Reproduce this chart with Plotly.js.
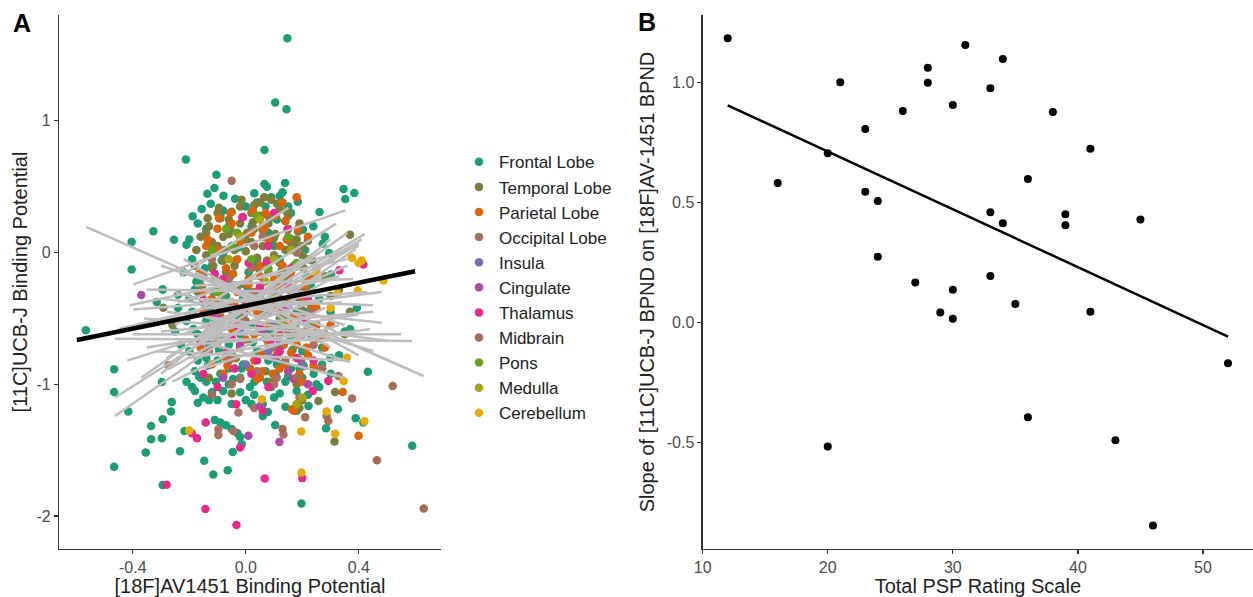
<!DOCTYPE html>
<html>
<head>
<meta charset="utf-8">
<script src="https://cdn.plot.ly/plotly-3.0.1.min.js"></script>
<style>html,body{margin:0;padding:0;background:#fff;}#chart{width:1253px;height:597px;}</style>
</head>
<body>
<div id="chart"></div>
<script>
// ---------- Panel A data ----------
const regions = ["Frontal Lobe","Temporal Lobe","Parietal Lobe","Occipital Lobe","Insula","Cingulate","Thalamus","Midbrain","Pons","Medulla","Cerebellum"];
const regionColors = ["#1B9E77","#7D7D3C","#DE640C","#A8705F","#7570B3","#B04AA8","#E7298A","#A56B59","#66A61E","#A6A61A","#E6AB02"];

const frontalX = [0.147,0.104,0.144,0.066,-0.212,-0.104,-0.136,-0.111,-0.079,-0.124,-0.156,-0.188,-0.038,0.066,0.139,0.13,0.184,0.261,0.346,0.384,0.352,-0.404,-0.404,-0.327,-0.254,-0.294,0.302,0.272,0.295,0.202,0.239,0.075,0.12,0.15,-0.17,-0.14,-0.21,-0.19,-0.22,-0.24,
 -0.566,-0.466,-0.466,-0.416,-0.466,-0.294,-0.354,-0.335,-0.335,-0.294,-0.265,-0.262,-0.297,-0.233,-0.217,-0.147,-0.115,-0.064,-0.046,-0.014,0.197,0.589,0.432,0.416,0.389,0.284,0.326,0.222,0.104,0.078,-0.297,-0.315,-0.294,0.369,0.393,
 -0.11,-0.09,-0.07,-0.05,-0.03,-0.02,-0.13,-0.15,-0.17,-0.12,-0.19,-0.21,-0.18,-0.16,-0.08,-0.05,0.0,0.03,0.06,0.09,0.12,0.14,0.18,0.20,0.24,0.27,0.30,0.33,0.25,0.16,-0.02,-0.06,-0.10,-0.14,-0.20,-0.23,-0.25,-0.21,-0.24,-0.20,-0.18,-0.16,-0.12,-0.08,-0.05,-0.02,0.02,0.05,0.08,0.10,0.12,0.15,0.18,0.21,0.23,0.26,0.30,0.35,0.28,0.22,0.18,0.14,0.10,0.06,0.02,-0.02,-0.06,-0.10,-0.14,-0.17,0.04,0.08,0.12,0.16,0.20,-0.01,-0.04,0.01,0.04,0.07,0.11,-0.09,-0.06,-0.13,-0.10,0.0,0.09,0.03,
 -0.19,-0.15,-0.11,-0.07,-0.03,0.01,0.05,0.09,0.13,0.17,0.21,0.25,-0.17,-0.13,-0.09,-0.05,-0.01,0.03,0.07,0.11,0.15,0.19,0.23,0.27,-0.18,-0.14,-0.10,-0.06,-0.02,0.02,0.06,0.10,0.14,0.18,0.22,0.26,0.30,-0.20,-0.08,0.04,0.16,0.28,
 -0.185,-0.155,-0.125,-0.095,-0.065,-0.035,-0.005,0.025,0.055,0.085,0.115,0.145,0.175,0.205,-0.175,-0.145,-0.115,-0.085,-0.055,-0.025,0.005,0.035,0.065,0.095,0.125,0.155,0.185,0.215,-0.165,-0.135,-0.105,-0.075,-0.045,-0.015,0.015,0.045,0.075,0.105,0.135,0.165];
const frontalY = [1.626,1.139,1.088,0.778,0.707,0.591,0.447,0.49,0.432,0.371,0.331,0.275,0.409,0.52,0.528,0.457,0.386,0.308,0.482,0.452,0.407,0.081,-0.129,0.161,0.098,-0.28,-0.167,0.066,-0.003,0.174,0.2,0.50,0.43,0.35,0.22,0.18,0.06,-0.05,-0.15,-0.32,
 -0.589,-0.886,-1.058,-1.207,-1.626,-1.765,-1.518,-1.316,-1.417,-1.265,-1.207,-1.134,-1.409,-1.508,-1.354,-1.581,-1.684,-1.652,-1.513,-1.455,-1.904,-1.467,-0.904,-1.29,-1.258,-1.333,-1.187,-1.164,-1.308,-1.21,-0.982,-0.376,-0.28,-0.583,-0.419,
 -1.27,-1.29,-1.31,-1.34,-1.37,-1.40,-1.12,-1.10,-1.14,-1.06,-1.02,-0.98,-0.90,-0.95,-1.05,-1.15,-1.12,-1.08,-1.15,-1.02,-1.07,-0.98,-1.05,-0.95,-0.92,-0.85,-0.80,-0.78,-1.00,-0.88,-0.95,-0.88,-0.82,-0.80,-0.75,-0.70,-0.60,-0.52,-0.42,-0.35,-0.28,-0.20,-0.10,-0.02,0.05,0.12,0.20,0.28,0.15,0.05,-0.05,-0.15,-0.10,0.02,-0.25,-0.35,-0.45,-0.60,-0.62,-0.55,-0.45,-0.38,-0.30,-0.45,-0.55,-0.62,-0.70,-0.60,-0.52,-0.62,-0.75,-0.82,-0.72,-0.65,-0.75,-0.35,-0.25,-0.15,-0.05,0.35,0.25,0.28,0.20,0.05,-0.40,0.35,0.42,0.45,
 -0.45,-0.38,-0.50,-0.33,-0.48,-0.40,-0.28,-0.62,-0.20,-0.30,-0.45,-0.55,-0.82,-0.70,-0.92,-0.78,-0.85,-0.98,-0.90,-0.85,-0.94,-0.88,-0.62,-0.72,-1.05,-0.98,-1.12,-1.00,-1.06,-1.15,-1.24,-1.10,-1.17,-1.20,-1.08,-1.02,-0.92,0.10,0.32,0.38,0.30,0.12,
 -0.58,-0.66,-0.42,-0.74,-0.52,-0.80,-0.46,-0.68,-0.36,-0.58,-0.84,-0.50,-0.56,-0.86,-0.22,-0.12,-0.30,-0.06,-0.18,0.04,-0.26,-0.10,-0.22,0.10,-0.14,0.02,-0.34,-0.18,-0.94,-0.86,-0.98,-0.64,-0.96,-0.88,-1.02,-0.60,-0.98,-0.92,-0.56,-0.74];

const temporalX = [-0.10,-0.06,-0.02,0.02,0.05,0.09,0.12,0.08,0.15,0.18,0.20,0.22,0.25,0.28,-0.14,-0.12,-0.08,-0.04,0.0,0.03,0.06,0.10,0.14,0.17,-0.18,-0.15,-0.11,-0.07,0.369,0.316,0.314,0.257,-0.292,0.369,0.18,0.20,0.19,0.09,-0.05,-0.13,0.24,0.30,0.33,0.05,-0.02,0.12,0.35,-0.26,
 -0.16,-0.13,-0.09,-0.05,-0.01,0.03,0.07,0.11,0.15,0.19,-0.14,-0.10,-0.06,-0.02,0.02,0.06,0.10,0.14,0.18,0.22,-0.12,-0.08,-0.04,0.0,0.04,0.08,0.12,0.16,0.20,0.24,-0.17,-0.11,-0.03,0.05,0.13,0.21,
 -0.175,-0.135,-0.095,-0.055,-0.015,0.025,0.065,0.105,0.145,0.185,-0.155,-0.115,-0.075,-0.035,0.005,0.045,0.085,0.125,0.165,0.205,-0.125,-0.085,-0.045,-0.005,0.035,0.075,0.115,0.155,0.195,0.235];
const temporalY = [0.30,0.25,0.35,0.30,0.38,0.40,0.33,0.22,0.18,0.10,0.05,-0.05,-0.12,-0.18,0.15,0.08,0.12,0.02,0.10,0.18,0.05,-0.02,0.02,-0.10,-0.10,-0.18,-0.22,-0.15,0.136,-1.058,-1.434,-1.126,-0.419,-0.449,-1.0,-1.12,-1.18,-0.98,-1.07,-0.95,-0.88,-0.33,-0.28,-0.60,-0.45,-0.50,-0.62,-0.55,
 0.12,0.20,0.26,0.31,0.27,0.36,0.29,0.37,0.28,0.22,-0.02,0.05,0.14,0.22,0.08,0.17,0.11,0.24,0.04,0.09,-0.12,-0.06,-0.10,0.01,-0.04,-0.15,-0.08,0.07,-0.02,-0.20,-0.30,-0.38,-0.26,-0.33,-0.22,-0.28,
 0.02,0.26,0.34,0.18,0.40,0.23,0.42,0.14,0.31,0.16,-0.26,-0.10,0.02,-0.06,0.15,-0.12,0.26,-0.16,0.10,-0.12,-0.40,-0.32,-0.46,-0.24,-0.30,-0.06,-0.34,-0.28,-0.42,-0.06];

const parietalX = [0.18,0.13,-0.05,-0.10,0.02,0.08,0.12,-0.03,0.05,0.10,0.15,0.20,0.25,-0.08,-0.12,-0.15,0.0,0.04,0.08,0.12,0.18,0.22,0.28,-0.05,-0.10,-0.02,0.03,0.06,0.14,0.19,0.343,0.399,0.163,0.17,0.05,-0.07,0.09,0.16,0.30,0.26,0.21,0.01,-0.14,0.07,0.11,-0.04,
 -0.15,-0.11,-0.07,-0.03,0.01,0.05,0.09,0.13,0.17,0.21,0.25,-0.13,-0.09,-0.05,-0.01,0.03,0.07,0.11,0.15,0.19,0.23,-0.16,-0.12,-0.08,-0.04,0.0,0.04,0.08,0.12,0.16,0.20,0.24,0.28,-0.10,-0.02,0.06,0.14,0.22,
 -0.165,-0.125,-0.085,-0.045,-0.005,0.035,0.075,0.115,0.155,0.195,-0.145,-0.105,-0.065,-0.025,0.015,0.055,0.095,0.135,0.175,0.215,-0.135,-0.095,-0.055,-0.015,0.025,0.065,0.105,0.145,0.185,0.225];
const parietalY = [0.42,0.38,0.22,0.18,0.15,0.10,0.05,-0.05,-0.10,-0.20,-0.28,-0.35,-0.42,-0.25,-0.35,-0.45,-0.35,-0.45,-0.55,-0.62,-0.70,-0.78,-0.72,-0.58,-0.68,-0.72,-0.82,-0.90,-0.85,-0.92,-1.058,-1.391,-1.189,-1.20,-0.95,-0.80,-0.30,-0.15,-0.55,-0.65,-0.60,-0.20,0.05,0.30,-0.40,-0.40,
 -0.30,-0.20,-0.12,-0.30,-0.24,-0.18,-0.36,-0.10,-0.48,-0.25,-0.55,-0.58,-0.48,-0.38,-0.52,-0.62,-0.42,-0.78,-0.52,-0.64,-0.40,-0.72,-0.85,-0.92,-0.80,-0.66,-0.96,-0.70,-0.88,-0.76,-0.98,-0.86,-0.62,0.02,0.08,0.20,0.24,0.12,
 -0.16,-0.56,-0.40,-0.16,-0.44,-0.30,-0.66,-0.26,-0.38,-0.82,-0.76,-0.66,-0.86,-0.60,-0.88,-0.76,-0.92,-0.70,-0.58,-0.72,0.10,0.26,0.30,0.12,0.32,0.18,0.28,0.10,0.18,-0.20];

const occipitalX = [-0.05,0.02,0.08,0.12,-0.08,0.15,0.20,0.24,-0.274,0.328,0.376,0.292,-0.097,-0.097,-0.044,0.133,-0.026,0.04,0.10,0.18,0.03,-0.12,-0.13,-0.05,0.03,0.11,0.19,0.27,-0.09,0.07,0.15,0.23,-0.14,-0.06,0.02,0.10,0.18,-0.02,0.06,0.14];
const occipitalY = [0.545,-0.30,-0.45,-0.35,-0.55,-0.60,-0.50,-0.70,-0.856,-0.937,-1.108,-1.278,-1.384,-1.341,-1.354,-1.381,-1.214,-0.90,-1.0,0.0,0.05,-0.05,-0.75,-1.0,-1.18,-0.95,-1.10,-0.88,-0.30,-0.65,-0.20,-0.45,-0.62,-0.20,-0.12,-0.72,-0.28,-0.96,0.12,-0.82];

const insulaX = [0.05,0.10,-0.02,0.15,0.20,0.08,-0.06,0.0,0.12,-0.09];
const insulaY = [-0.30,-0.55,-0.60,-0.40,-0.85,-0.75,-0.42,-0.85,-0.68,-0.22];

const cingulateX = [-0.37,0.119,0.009,0.051,-0.08,0.15,0.22,-0.02,0.10,-0.10,0.06,0.18];
const cingulateY = [-0.323,-1.437,-1.391,-1.164,-0.95,-0.90,-1.0,-0.70,-0.80,-0.50,-0.60,-0.32];

const thalamusX = [0.416,0.331,-0.012,0.147,0.074,-0.28,-0.143,-0.033,0.067,0.2,0.292,0.237,-0.02,-0.173,-0.191,-0.142,-0.034,0.10,0.05,-0.05,0.12,0.18,-0.15,0.02,0.08,-0.10,0.15,0.22,-0.12,-0.04,0.04,0.12,0.20,-0.08,0.0,0.08,0.16,0.24,-0.16,0.06,-0.11,-0.03,0.05,0.13,0.21,-0.07,0.01,0.09,0.17,-0.15];
const thalamusY = [-0.091,-0.134,0.268,0.174,-0.078,-1.763,-1.947,-2.068,-1.715,-1.712,-0.975,-1.051,-1.48,-1.409,-1.371,-1.29,-1.152,0.30,-0.55,-0.65,-0.75,-0.80,-0.92,-0.92,-1.02,-1.02,-0.25,-0.35,-0.48,-0.88,-0.82,-0.58,-0.62,-0.20,-0.40,0.05,-0.12,-0.82,-0.68,-1.20,-0.16,-0.56,-0.26,-0.44,-0.50,-0.76,-0.08,-0.66,-0.96,-0.36];

const midbrainX = [0.63,0.464,0.52,0.286,0.13,-0.12,0.18,0.25,0.0,0.10,-0.06,0.21];
const midbrainY = [-1.942,-1.576,-1.013,-1.24,-1.34,-1.08,-0.95,-0.60,-0.52,-0.25,-0.82,-1.25];

const ponsX = [-0.05,0.08,0.15,-0.10,0.12,0.02,0.18,-0.03,-0.07,0.04,0.13,-0.12];
const ponsY = [0.05,-0.12,0.12,-0.30,-0.55,-0.05,-0.08,0.15,0.18,0.28,-0.20,0.02];

const medullaX = [-0.02,-0.10,0.05,0.10,0.20,0.18,0.07,-0.06,0.16];
const medullaY = [0.12,-0.60,0.25,-0.05,-1.10,-1.15,-0.22,-0.05,0.02];

const cerebellumX = [0.375,0.399,0.41,0.487,0.324,0.396,0.197,0.316,0.286,0.346,0.196,0.057,0.358,0.25,0.30,-0.20,0.42];
const cerebellumY = [-0.04,-0.078,-0.06,-0.212,-0.313,-0.288,-1.669,-1.376,-1.207,-0.975,-1.359,-1.114,-0.798,-0.15,-0.42,-1.35,-1.28];

const regionXs = [frontalX,temporalX,parietalX,occipitalX,insulaX,cingulateX,thalamusX,midbrainX,ponsX,medullaX,cerebellumX];
const regionYs = [frontalY,temporalY,parietalY,occipitalY,insulaY,cingulateY,thalamusY,midbrainY,ponsY,medullaY,cerebellumY];

// per-subject fit lines (gray), endpoints
const subjX1 = [-0.565,-0.398,-0.232,-0.463,-0.463,-0.463,-0.398,-0.30,-0.25,-0.20,-0.37,-0.28,-0.45,-0.30,-0.18,-0.40,-0.22,-0.35,-0.15,-0.33,-0.27,-0.20,-0.41,-0.12,-0.30,-0.25,-0.20,-0.42,-0.10,-0.35,-0.15,-0.28,-0.22,-0.26,-0.18,-0.32,-0.24,-0.14,-0.30,-0.20,-0.16,-0.36];
const subjY1 = [0.195,-0.242,-0.18,-1.24,-1.10,-0.654,-0.432,-0.35,-0.30,-0.45,-0.95,-0.80,-0.58,-0.10,-0.25,-0.62,-0.05,-0.72,-0.60,-0.52,-0.88,-0.35,-0.40,-0.70,-0.60,-0.55,-0.70,-0.82,-0.20,-0.28,-0.88,-0.45,-0.62,-0.98,-0.15,-0.75,-0.38,-0.42,-0.92,-0.80,-0.70,-0.50];
const subjX2 = [0.629,0.352,0.151,0.39,0.40,0.588,0.43,0.481,0.452,0.369,0.36,0.41,0.33,0.35,0.38,0.55,0.30,0.40,0.42,0.48,0.30,0.45,0.36,0.35,0.45,0.32,0.38,0.28,0.40,0.25,0.33,0.50,0.36,0.28,0.32,0.36,0.40,0.34,0.20,0.44,0.30,0.30];
const subjY2 = [-0.937,0.32,0.339,0.03,0.07,-0.672,-0.30,-0.533,-0.748,-0.831,0.15,0.10,-0.18,-0.55,-0.20,-0.62,-0.72,-0.47,0.14,-0.30,-0.20,-0.40,-0.05,-0.95,-0.45,0.22,-0.60,-0.35,-0.78,-0.30,-0.55,-0.67,-0.10,-0.42,-0.60,-0.82,0.05,-0.38,-0.05,-0.58,0.10,-0.62];

// overall fit (black)
const fitAX = [-0.598, 0.599];
const fitAY = [-0.664, -0.142];

// ---------- Panel B data ----------
const pspScore = [12,16,20,20,21,23,23,24,24,26,27,28,28,29,30,30,30,31,33,33,33,34,34,35,36,36,38,39,39,41,41,43,45,46,52];
const slopeBP  = [1.183,0.58,0.704,-0.518,1.0,0.805,0.544,0.505,0.273,0.88,0.165,1.06,0.998,0.04,0.905,0.135,0.014,1.155,0.975,0.458,0.193,1.097,0.412,0.076,0.597,-0.396,0.876,0.45,0.404,0.723,0.044,-0.492,0.428,-0.847,-0.171];

// ---------- traces ----------
const traces = [];
regions.forEach((name, i) => {
  traces.push({
    type: 'scatter', mode: 'markers', name: name,
    x: regionXs[i], y: regionYs[i], xaxis: 'x', yaxis: 'y',
    marker: {color: regionColors[i], size: 8.5, line: {width: 0}},
    showlegend: true
  });
});
for (let i = 0; i < subjX1.length; i++) {
  traces.push({
    type: 'scatter', mode: 'lines', x: [subjX1[i], subjX2[i]], y: [subjY1[i], subjY2[i]],
    xaxis: 'x', yaxis: 'y', line: {color: '#BEBEBE', width: 2.5}, showlegend: false, hoverinfo: 'skip'
  });
}
traces.push({
  type: 'scatter', mode: 'lines', x: fitAX, y: fitAY, xaxis: 'x', yaxis: 'y',
  line: {color: '#000000', width: 4.5}, showlegend: false
});

// OLS fit for panel B
const n = pspScore.length;
const mx = pspScore.reduce((a,b)=>a+b,0)/n;
const my = slopeBP.reduce((a,b)=>a+b,0)/n;
let sxy = 0, sxx = 0;
for (let i = 0; i < n; i++) { sxy += (pspScore[i]-mx)*(slopeBP[i]-my); sxx += (pspScore[i]-mx)**2; }
const b1 = sxy/sxx, b0 = my - b1*mx;
const xMin = Math.min(...pspScore), xMax = Math.max(...pspScore);

traces.push({
  type: 'scatter', mode: 'markers', x: pspScore, y: slopeBP, xaxis: 'x2', yaxis: 'y2',
  marker: {color: '#000000', size: 8}, showlegend: false
});
traces.push({
  type: 'scatter', mode: 'lines', x: [xMin, xMax], y: [b0 + b1*xMin, b0 + b1*xMax], xaxis: 'x2', yaxis: 'y2',
  line: {color: '#000000', width: 2.5}, showlegend: false
});

const FONT = 'Liberation Sans, Arial, sans-serif';
const axisCommon = {
  showline: true, linecolor: '#333333', linewidth: 1.2, ticks: 'outside', ticklen: 4, tickcolor: '#333333', tickwidth: 1.2,
  showgrid: false, zeroline: false, tickfont: {family: FONT, size: 16, color: '#4D4D4D'}
};

const layout = {
  width: 1253, height: 597,
  margin: {l: 0, r: 0, t: 15, b: 48},
  paper_bgcolor: '#FFFFFF', plot_bgcolor: '#FFFFFF',
  font: {family: FONT},
  xaxis: Object.assign({}, axisCommon, {
    domain: [0.0471, 0.352], range: [-0.661, 0.691], anchor: 'y',
    tickvals: [-0.4, 0, 0.4], ticktext: ['-0.4', '0.0', '0.4'],
    title: {text: '[18F]AV1451 Binding Potential', font: {family: FONT, size: 20, color: '#222222'}, standoff: 2}
  }),
  yaxis: Object.assign({}, axisCommon, {
    domain: [0, 1], range: [-2.25, 1.803], anchor: 'x',
    tickvals: [-2, -1, 0, 1], ticktext: ['-2', '-1', '0', '1'],
    title: {text: '[11C]UCB-J Binding Potential', font: {family: FONT, size: 20, color: '#222222'}, standoff: 3}
  }),
  xaxis2: Object.assign({}, axisCommon, {
    domain: [0.5608, 1], range: [10, 54.0], anchor: 'y2',
    tickvals: [10, 20, 30, 40, 50], ticktext: ['10', '20', '30', '40', '50'],
    title: {text: 'Total PSP Rating Scale', font: {family: FONT, size: 20, color: '#222222'}, standoff: 2}
  }),
  yaxis2: Object.assign({}, axisCommon, {
    domain: [0, 1], range: [-0.945, 1.28], anchor: 'x2',
    tickvals: [-0.5, 0, 0.5, 1], ticktext: ['-0.5', '0.0', '0.5', '1.0'],
    title: {text: 'Slope of [11C]UCB-J BPND on [18F]AV-1451 BPND', font: {family: FONT, size: 20, color: '#222222'}, standoff: 6}
  }),
  legend: {
    x: 0.3663, y: 0.758, xanchor: 'left', yanchor: 'top',
    font: {family: FONT, size: 17, color: '#222222'},
    bgcolor: 'rgba(0,0,0,0)', borderwidth: 0
  },
  annotations: [
    {text: '<b>A</b>', x: 22, y: 23, xref: 'paper', yref: 'paper', showarrow: false, xanchor: 'center', yanchor: 'middle',
     font: {family: FONT, size: 25, color: '#000000'}},
    {text: '<b>B</b>', x: 647, y: 22, xref: 'paper', yref: 'paper', showarrow: false, xanchor: 'center', yanchor: 'middle',
     font: {family: FONT, size: 25, color: '#000000'}}
  ]
};
// convert pixel annotation positions to paper coords
const plotH = 597 - 15 - 48;
layout.annotations.forEach(a => { a.x = a.x / 1253; a.y = 1 - (a.y - 15) / plotH; });

Plotly.newPlot('chart', traces, layout, {staticPlot: true, displayModeBar: false});
</script>
</body>
</html>
